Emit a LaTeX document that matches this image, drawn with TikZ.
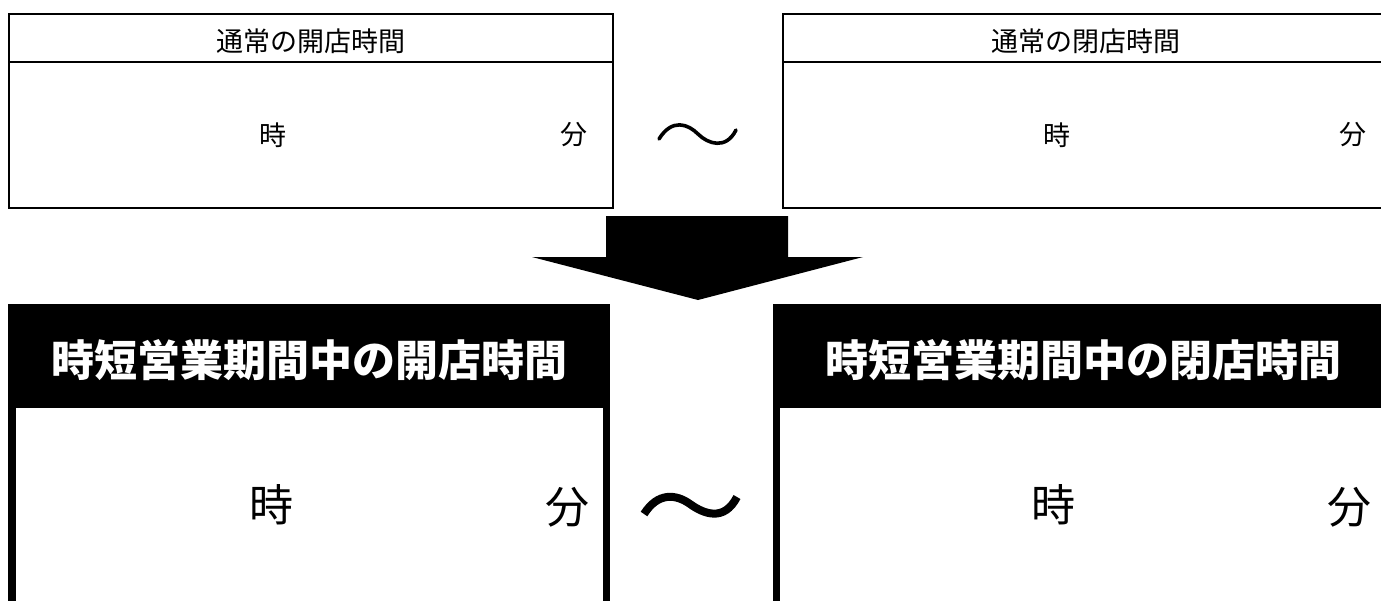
\documentclass[tikz,border=0pt]{standalone}
\usepackage{fontspec}
\newfontfamily\jp{Noto Sans CJK JP}
\begin{document}
\begin{tikzpicture}[x=0.5pt,y=-0.5pt,
  thinbox/.style={draw=black,line width=1pt},
  smalltxt/.style={font=\jp\fontsize{13.5}{16}\selectfont,inner sep=0pt},
  smallnum/.style={font=\jp\fontsize{13.5}{16}\selectfont,inner sep=0pt},
  bigtxt/.style={font=\jp\bfseries\fontsize{21.5}{26}\selectfont,inner sep=0pt,text=white},
  bignum/.style={font=\jp\fontsize{22}{26}\selectfont,inner sep=0pt},
  tildeline/.style={draw=black,line cap=round},
]
\useasboundingbox (0,0) rectangle (1381,600);
\fill[white] (0,0) rectangle (1381,600);
% top boxes
\draw[thinbox] (8.5,14) rectangle (612.5,208);
\draw[thinbox] (8.5,62) -- (612.5,62);
\draw[thinbox] (783,14) rectangle (1400,208);
\draw[thinbox] (783,62) -- (1400,62);
\node[smalltxt] (h1) at (310.5,41) {通常の開店時間};
\node[smalltxt] (h2) at (1086,41) {通常の閉店時間};
\node[smallnum] (t1) at (273,135) {時};
\node[smallnum] (m1) at (573.5,135) {分};
\node[smallnum] (t2) at (1057,135) {時};
\node[smallnum] (m2) at (1353,135) {分};
% top tilde
\draw[tildeline,line width=1.8pt] (659,139) .. controls (672,118) and (688,124) .. (698,134) .. controls (708,144) and (726,150) .. (736,130);
% arrow
\fill[black] (606,216) -- (788,216) -- (788,257) -- (863,257) -- (698,300) -- (532,257) -- (606,257) -- cycle;
% bottom boxes
\fill[black] (8,304) rectangle (610,408);
\fill[black] (8,408) rectangle (15.5,610);
\fill[black] (603,408) rectangle (610,610);
\fill[black] (773,304) rectangle (1400,408);
\fill[black] (773,408) rectangle (780,610);
\node[bigtxt] (H1) at (309,360) {時短営業期間中の開店時間};
\node[bigtxt] (H2) at (1083,360) {時短営業期間中の閉店時間};
\node[bignum] (T1) at (271,505) {時};
\node[bignum] (M1) at (567,507) {分};
\node[bignum] (T2) at (1053,505) {時};
\node[bignum] (M2) at (1349,507) {分};
% bottom tilde
\draw[draw=black,line width=4pt] (644,514) .. controls (658,492) and (676,494) .. (690,504) .. controls (704,514) and (724,522) .. (737,497);
\end{tikzpicture}
\end{document}
